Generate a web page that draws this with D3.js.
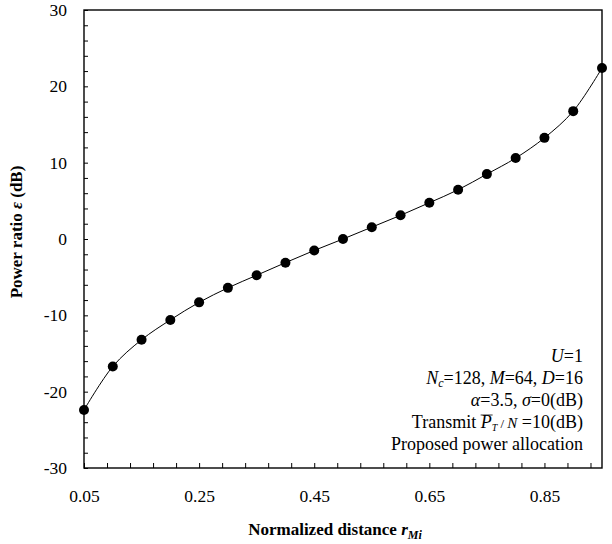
<!DOCTYPE html>
<html>
<head>
<meta charset="utf-8">
<script src="https://cdn.jsdelivr.net/npm/d3@7"></script>
<style>
  body { margin: 0; background: #fff; }
  text { font-family: "Liberation Serif", "Times New Roman", serif; fill: #000; }
</style>
</head>
<body>
<div id="chart"></div>
<script>
const distances = [0.05, 0.10, 0.15, 0.20, 0.25, 0.30, 0.35, 0.40, 0.45, 0.50,
                   0.55, 0.60, 0.65, 0.70, 0.75, 0.80, 0.85, 0.90, 0.95];
const powerRatio = [-22.4, -16.7, -13.2, -10.6, -8.3, -6.4, -4.75, -3.1, -1.5, 0,
                    1.55, 3.1, 4.75, 6.45, 8.5, 10.6, 13.25, 16.75, 22.4];
const xTicks = [0.05, 0.25, 0.45, 0.65, 0.85];
const yTicks = [-30, -20, -10, 0, 10, 20, 30];

const width = 612, height = 544;
const margin = {top: 10, right: 10, bottom: 76, left: 84};

const svg = d3.select('#chart').append('svg')
  .attr('width', width)
  .attr('height', height);

const x = d3.scaleLinear().domain([0.05, 0.95]).range([margin.left, width - margin.right]);
const y = d3.scaleLinear().domain([-30, 30]).range([height - margin.bottom, margin.top]);

// minor ticks (inside)
const xMinor = d3.range(0.05, 0.951, 0.04);
const yMinor = d3.range(-30, 30.1, 2);

const xAxis = svg.append('g')
  .attr('transform', 'translate(0,' + y(-30) + ')')
  .call(d3.axisBottom(x).tickValues(xMinor).tickSize(-5).tickFormat(''));
xAxis.select('.domain').remove();
xAxis.selectAll('line').attr('stroke-width', 1);

const xLabels = svg.append('g')
  .attr('transform', 'translate(0,' + y(-30) + ')')
  .call(d3.axisBottom(x).tickValues(xTicks).tickSize(0).tickPadding(22).tickFormat(d3.format('.2f')));
xLabels.select('.domain').remove();
xLabels.selectAll('text').attr('font-size', '17.5px').attr('font-family', 'Liberation Serif');

const yAxis = svg.append('g')
  .attr('transform', 'translate(' + x(0.05) + ',0)')
  .call(d3.axisLeft(y).tickValues(yMinor).tickSize(-4).tickFormat(''));
yAxis.select('.domain').remove();
yAxis.selectAll('line').attr('stroke-width', 1);

const yLabels = svg.append('g')
  .attr('transform', 'translate(' + x(0.05) + ',0)')
  .call(d3.axisLeft(y).tickValues(yTicks).tickSize(0).tickPadding(17).tickFormat(d => String(d)));
yLabels.select('.domain').remove();
yLabels.selectAll('text').attr('font-size', '17.5px').attr('font-family', 'Liberation Serif');

// frame
svg.append('rect')
  .attr('x', x(0.05)).attr('y', y(30))
  .attr('width', x(0.95) - x(0.05)).attr('height', y(-30) - y(30))
  .attr('fill', 'none').attr('stroke', '#000').attr('stroke-width', 1.4);

// curve
const pts = distances.map((d, i) => [d, powerRatio[i]]);
const line = d3.line()
  .x(d => x(d[0]))
  .y(d => y(d[1]))
  .curve(d3.curveCatmullRom.alpha(0.5));

svg.append('path')
  .datum(pts)
  .attr('d', line)
  .attr('fill', 'none')
  .attr('stroke', '#000')
  .attr('stroke-width', 1);

svg.selectAll('.dot')
  .data(pts)
  .enter().append('circle')
  .attr('class', 'dot')
  .attr('cx', d => x(d[0]))
  .attr('cy', d => y(d[1]))
  .attr('r', 5)
  .attr('fill', '#000');

// axis titles
const xt = svg.append('text')
  .attr('x', 335)
  .attr('y', 535)
  .attr('text-anchor', 'middle')
  .attr('font-size', '17px')
  .attr('font-weight', 'bold');
xt.append('tspan').text('Normalized distance ');
xt.append('tspan').attr('font-style', 'italic').text('r');
xt.append('tspan').attr('font-style', 'italic').attr('font-size', '12px').attr('dy', 4).text('Mi');

const yt = svg.append('text')
  .attr('transform', 'translate(22,232) rotate(-90)')
  .attr('text-anchor', 'middle')
  .attr('font-size', '17px')
  .attr('font-weight', 'bold');
yt.append('tspan').text('Power ratio ');
yt.append('tspan').attr('font-style', 'italic').text('ε');
yt.append('tspan').text('  (dB)');

// annotation
const ax = 583;
const fs = '18px';
const l1 = svg.append('text').attr('x', ax).attr('y', 362).attr('text-anchor', 'end').attr('font-size', fs);
l1.append('tspan').attr('font-style', 'italic').text('U');
l1.append('tspan').text('=1');

const l2 = svg.append('text').attr('x', ax).attr('y', 384).attr('text-anchor', 'end').attr('font-size', fs);
l2.append('tspan').attr('font-style', 'italic').text('N');
l2.append('tspan').attr('font-style', 'italic').attr('font-size', '12px').attr('dy', 3).text('c');
l2.append('tspan').attr('dy', -3).text('=128, ');
l2.append('tspan').attr('font-style', 'italic').text('M');
l2.append('tspan').text('=64, ');
l2.append('tspan').attr('font-style', 'italic').text('D');
l2.append('tspan').text('=16');

const l3 = svg.append('text').attr('x', ax).attr('y', 406).attr('text-anchor', 'end').attr('font-size', fs);
l3.append('tspan').attr('font-style', 'italic').text('α');
l3.append('tspan').text('=3.5, ');
l3.append('tspan').attr('font-style', 'italic').text('σ');
l3.append('tspan').text('=0(dB)');

const l4 = svg.append('text').attr('x', ax).attr('y', 428).attr('text-anchor', 'end').attr('font-size', fs);
l4.append('tspan').text('Transmit ');
const pBar = l4.append('tspan').attr('font-style', 'italic').text('P');
l4.append('tspan').attr('font-style', 'italic').attr('font-size', '10px').attr('dy', 3).text('T');
l4.append('tspan').attr('dy', -3).attr('font-size', '13px').text(' / ');
l4.append('tspan').attr('font-style', 'italic').attr('font-size', '15px').text('N');
l4.append('tspan').text('  =10(dB)');
const pb = pBar.node().getBBox();
svg.append('line')
  .attr('x1', pb.x + 1).attr('x2', pb.x + pb.width + 1)
  .attr('y1', pb.y + 3).attr('y2', pb.y + 3)
  .attr('stroke', '#000').attr('stroke-width', 0.8);

svg.append('text').attr('x', ax).attr('y', 450).attr('text-anchor', 'end').attr('font-size', fs)
  .text('Proposed power allocation');
</script>
</body>
</html>
